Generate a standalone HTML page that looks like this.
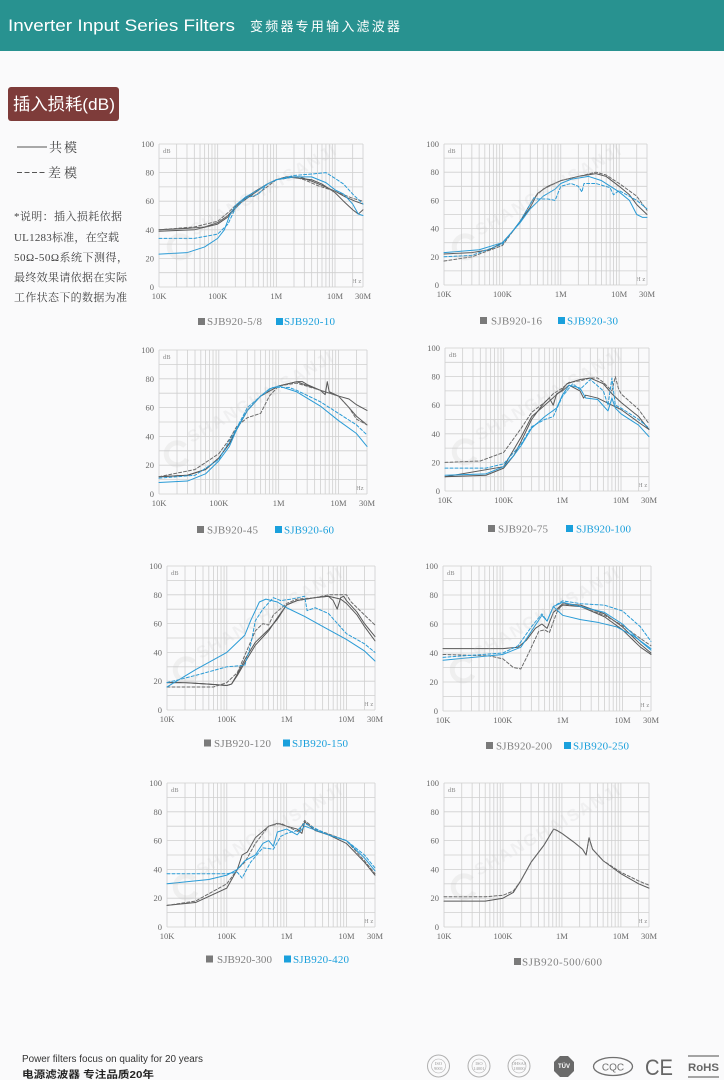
<!DOCTYPE html>
<html><head><meta charset="utf-8">
<style>
html,body{margin:0;padding:0;background:#fafafb;}
svg{display:block;}
.p{fill:none;vector-effect:non-scaling-stroke;stroke-width:1;stroke-linejoin:round;stroke-linecap:round}
.g{stroke:#585858}
.gd{stroke:#6a6a6a;stroke-dasharray:3 2}
.b{stroke:#2a9bd6}
.bd{stroke:#2a9bd6;stroke-dasharray:3 2}
.gr{fill:none;stroke:#cfcfcf;stroke-width:0.8;vector-effect:non-scaling-stroke}
.tk{font-family:"Liberation Serif","Noto Serif CJK SC",serif;font-size:8.5px;fill:#6a6a6a}
.sm{font-family:"Liberation Serif",serif;font-size:6.5px;fill:#888}
.lg{font-family:"Liberation Serif","Noto Serif CJK SC",serif;font-size:11px}
.wm{font-family:"Liberation Sans",sans-serif;font-size:17px;font-weight:bold;fill:#c4c4c4;opacity:.17}
.wc{fill:none;stroke:#c4c4c4;stroke-width:5;opacity:.2}
</style></head>
<body>
<svg width="724" height="1080" viewBox="0 0 724 1080" xmlns="http://www.w3.org/2000/svg">
<defs>
<path id="gridp" class="gr" d="M0 0V100M30.1 0V100M47.7 0V100M60.2 0V100M69.9 0V100M77.8 0V100M84.5 0V100M90.3 0V100M95.4 0V100M100 0V100M130.1 0V100M147.7 0V100M160.2 0V100M169.9 0V100M177.8 0V100M184.5 0V100M190.3 0V100M195.4 0V100M200 0V100M230.1 0V100M247.7 0V100M260.2 0V100M269.9 0V100M277.8 0V100M284.5 0V100M290.3 0V100M295.4 0V100M300 0V100M330.1 0V100M347.7 0V100M0 0H347.7M0 10H347.7M0 20H347.7M0 30H347.7M0 40H347.7M0 50H347.7M0 60H347.7M0 70H347.7M0 80H347.7M0 90H347.7M0 100H347.7"/>
</defs>
<rect x="0" y="0" width="724" height="1080" fill="#fafafb"/>
<!-- header -->
<rect x="0" y="0" width="724" height="51" fill="#289290"/>
<text x="8" y="31" font-family="Liberation Sans,sans-serif" font-size="17" fill="#ffffff" textLength="227" lengthAdjust="spacingAndGlyphs">Inverter Input Series Filters</text>
<text x="250" y="31" font-family="Liberation Sans,Noto Sans CJK SC,sans-serif" font-size="13" fill="#ffffff" textLength="150" lengthAdjust="spacing">变频器专用输入滤波器</text>
<!-- title box -->
<rect x="8" y="87" width="111" height="34" rx="3" fill="#7e3c3a"/>
<text x="13" y="110" font-family="Liberation Sans,Noto Sans CJK SC,sans-serif" font-size="17" fill="#ffffff" textLength="102" lengthAdjust="spacingAndGlyphs">插入损耗(dB)</text>
<!-- left legend -->
<line x1="17" y1="147" x2="47" y2="147" stroke="#555" stroke-width="1"/>
<text x="49" y="152" font-family="Liberation Serif,Noto Serif CJK SC,serif" font-size="13" fill="#444" textLength="28">共模</text>
<line x1="17" y1="172.5" x2="46" y2="172.5" stroke="#555" stroke-width="1" stroke-dasharray="5 2.5"/>
<text x="48" y="177.5" font-family="Liberation Serif,Noto Serif CJK SC,serif" font-size="13" fill="#444" textLength="29">差模</text>
<g font-family="Liberation Serif,Noto Serif CJK SC,serif" font-size="11" fill="#444">
<text x="14" y="220" textLength="108">*说明：插入损耗依据</text>
<text x="14" y="241" textLength="105">UL1283标准，在空载</text>
<text x="14" y="261" textLength="114">50Ω-50Ω系统下测得，</text>
<text x="14" y="281" textLength="113">最终效果请依据在实际</text>
<text x="14" y="301" textLength="113">工作状态下的数据为准</text>
</g>

<!-- ============ CHART 1 ============ -->
<g transform="translate(159,144)">
<text class="tk" x="-5" y="3" text-anchor="end">100</text>
<text class="tk" x="-5" y="31.6" text-anchor="end">80</text>
<text class="tk" x="-5" y="60.2" text-anchor="end">60</text>
<text class="tk" x="-5" y="88.8" text-anchor="end">40</text>
<text class="tk" x="-5" y="117.4" text-anchor="end">20</text>
<text class="tk" x="-5" y="146" text-anchor="end">0</text>
<text class="tk" x="0" y="155" text-anchor="middle">10K</text>
<text class="tk" x="58.7" y="155" text-anchor="middle">100K</text>
<text class="tk" x="117.3" y="155" text-anchor="middle">1M</text>
<text class="tk" x="176" y="155" text-anchor="middle">10M</text>
<text class="tk" x="204" y="155" text-anchor="middle">30M</text>
<text class="sm" x="4" y="9">dB</text>
<text class="sm" x="193" y="139">H z</text>
</g>
<svg x="159" y="144" width="204" height="143" viewBox="0 0 347.7 100" preserveAspectRatio="none" overflow="visible">
<use href="#gridp"/>
<polyline class="p g" points="0,60 47.7,59 77.8,58 100,55 117.6,50 130.1,44 139.8,40 160.2,34 184.5,28 200,25 217.6,23 239.8,23 260.2,26 277.8,29 300,33 317.6,37 334.2,40 347.7,42"/>
<polyline class="p g" points="0,61 60,60 100,56 117.6,51 130.1,45 139.8,41 160.2,35 184.5,28 200,25 217.6,23 239.8,24 260.2,25 277.8,28 300,34 314.6,40 330.1,46 339.8,49 347.7,46"/>
<polyline class="p gd" points="0,60 60.2,58 100,54 117.6,48 130.1,43 139.8,40 154.4,36 160.2,37 177.8,32 200,25 217.6,24 230,23 247.7,25 269.9,29 300,33 330.1,38 347.7,40"/>
<polyline class="p b" points="0,77 47.7,76 77.8,72 100,66 111.4,60 120.4,50 130.1,43 147.7,37 169.9,32 184.5,28 200,25 230.1,23 260.2,23 284.5,27 300,32 314.6,35 330.1,42 339.8,49 347.7,50"/>
<polyline class="p bd" points="0,66 60.2,66 100,63 117.6,56 130.1,45 147.7,38 169.9,35 184.5,28 200,25 230.1,22 260.2,21 284.5,20 300,24 314.6,28 330.1,35 347.7,42"/>
</svg>
<g transform="translate(180,247)"><path class="wc" d="M8 -8 A11 11 0 1 0 10 5"/><text class="wm" x="18" y="-2" transform="rotate(-30)" letter-spacing="2">SHANGHAISANJI</text></g>
<rect x="198" y="318" width="7" height="7" fill="#7a7a7a"/>
<text class="lg" x="207" y="325" fill="#808080" textLength="55">SJB920-5/8</text>
<rect x="276" y="318" width="7" height="7" fill="#1aa0dc"/>
<text class="lg" x="284" y="325" fill="#1a9fdb" textLength="51">SJB920-10</text>

<!-- ============ CHART 2 ============ -->
<g transform="translate(444,144)">
<text class="tk" x="-5" y="3" text-anchor="end">100</text>
<text class="tk" x="-5" y="31.2" text-anchor="end">80</text>
<text class="tk" x="-5" y="59.4" text-anchor="end">60</text>
<text class="tk" x="-5" y="87.6" text-anchor="end">40</text>
<text class="tk" x="-5" y="115.8" text-anchor="end">20</text>
<text class="tk" x="-5" y="144" text-anchor="end">0</text>
<text class="tk" x="0" y="153" text-anchor="middle">10K</text>
<text class="tk" x="58.4" y="153" text-anchor="middle">100K</text>
<text class="tk" x="116.8" y="153" text-anchor="middle">1M</text>
<text class="tk" x="175.2" y="153" text-anchor="middle">10M</text>
<text class="tk" x="203" y="153" text-anchor="middle">30M</text>
<text class="sm" x="4" y="9">dB</text>
<text class="sm" x="192" y="137">H z</text>
</g>
<svg x="444" y="144" width="203" height="141" viewBox="0 0 347.7 100" preserveAspectRatio="none" overflow="visible">
<use href="#gridp"/>
<polyline class="p g" points="0,78 47.7,77 77.8,75 100,70 117.6,62 130.1,55 147.7,45 160.2,35 177.8,30 200,26 230.1,23 260.2,21 277.8,23 300,30 317.6,36 330.1,43 347.7,50"/>
<polyline class="p gd" points="0,83 47.7,80 100,72 130.1,55 154.4,38 169.9,32 200,26 230.1,23 260.2,20 277.8,22 300,28 330.1,37 347.7,47"/>
<polyline class="p b" points="0,77 60.2,75 100,70 130.1,56 147.7,46 169.9,37 190.3,32 200,28 217.6,25 247.7,23 269.9,26 300,34 317.6,40 330.1,50 339.8,52 347.7,52"/>
<polyline class="p bd" points="0,80 47.7,79 100,71 130.1,55 154.4,38 160.2,39 177.8,39 190.3,40 200,30 217.6,28 230.1,30 236.2,34 239.8,28 260.2,28 284.5,31 290.3,36 300,33 330.1,40 347.7,46"/>
</svg>
<g transform="translate(465,247)"><path class="wc" d="M8 -8 A11 11 0 1 0 10 5"/><text class="wm" x="18" y="-2" transform="rotate(-30)" letter-spacing="2">SHANGHAISANJI</text></g>
<rect x="480" y="317" width="7" height="7" fill="#7a7a7a"/>
<text class="lg" x="491" y="324.5" fill="#808080" textLength="51">SJB920-16</text>
<rect x="558" y="317" width="7" height="7" fill="#1aa0dc"/>
<text class="lg" x="567" y="324.5" fill="#1a9fdb" textLength="51">SJB920-30</text>

<!-- ============ CHART 3 ============ -->
<g transform="translate(159,350)">
<text class="tk" x="-5" y="3" text-anchor="end">100</text>
<text class="tk" x="-5" y="31.8" text-anchor="end">80</text>
<text class="tk" x="-5" y="60.6" text-anchor="end">60</text>
<text class="tk" x="-5" y="89.4" text-anchor="end">40</text>
<text class="tk" x="-5" y="118.2" text-anchor="end">20</text>
<text class="tk" x="-5" y="147" text-anchor="end">0</text>
<text class="tk" x="0" y="156" text-anchor="middle">10K</text>
<text class="tk" x="59.8" y="156" text-anchor="middle">100K</text>
<text class="tk" x="119.6" y="156" text-anchor="middle">1M</text>
<text class="tk" x="179.5" y="156" text-anchor="middle">10M</text>
<text class="tk" x="208" y="156" text-anchor="middle">30M</text>
<text class="sm" x="4" y="9">dB</text>
<text class="sm" x="197" y="140">Hz</text>
</g>
<svg x="159" y="350" width="208" height="144" viewBox="0 0 347.7 100" preserveAspectRatio="none" overflow="visible">
<use href="#gridp"/>
<polyline class="p g" points="0,88 47.7,87 77.8,83 100,75 117.6,65 130.1,55 147.7,42 169.9,32 200,25 230.1,22 239.8,22 247.7,24 269.9,28 277.8,31 281.3,22 284.5,29 300,32 317.6,34 330.1,38 347.7,42"/>
<polyline class="p g" points="0,88 47.7,87 77.8,83 100,75 117.6,65 130.1,55 147.7,42 169.9,32 200,25 230.1,22 269.9,28 300,32 317.6,40 330.1,46 347.7,52"/>
<polyline class="p gd" points="0,88 60.2,83 100,72 117.6,62 130.1,53 147.7,47 169.9,44 184.5,32 200,25 230.1,23 269.9,28 300,32 317.6,40 330.1,48 347.7,52"/>
<polyline class="p b" points="0,92 47.7,91 77.8,86 100,77 117.6,67 130.1,55 147.7,42 169.9,32 184.5,27 200,25 230.1,29 269.9,39 300,49 330.1,58 347.7,67"/>
<polyline class="p bd" points="0,89 60.2,87 100,76 130.1,54 147.7,40 169.9,32 190.3,26 217.6,26 230.1,28 269.9,36 300,44 330.1,52 347.7,59"/>
</svg>
<g transform="translate(177,454)"><path class="wc" d="M8 -8 A11 11 0 1 0 10 5"/><text class="wm" x="18" y="-2" transform="rotate(-30)" letter-spacing="2">SHANGHAISANJI</text></g>
<rect x="197" y="526" width="7" height="7" fill="#7a7a7a"/>
<text class="lg" x="207" y="533.5" fill="#808080" textLength="51">SJB920-45</text>
<rect x="275" y="526" width="7" height="7" fill="#1aa0dc"/>
<text class="lg" x="284" y="533.5" fill="#1a9fdb" textLength="50">SJB920-60</text>

<!-- ============ CHART 4 ============ -->
<g transform="translate(445,348)">
<text class="tk" x="-5" y="3" text-anchor="end">100</text>
<text class="tk" x="-5" y="31.6" text-anchor="end">80</text>
<text class="tk" x="-5" y="60.2" text-anchor="end">60</text>
<text class="tk" x="-5" y="88.8" text-anchor="end">40</text>
<text class="tk" x="-5" y="117.4" text-anchor="end">20</text>
<text class="tk" x="-5" y="146" text-anchor="end">0</text>
<text class="tk" x="0" y="155" text-anchor="middle">10K</text>
<text class="tk" x="58.7" y="155" text-anchor="middle">100K</text>
<text class="tk" x="117.3" y="155" text-anchor="middle">1M</text>
<text class="tk" x="176" y="155" text-anchor="middle">10M</text>
<text class="tk" x="204" y="155" text-anchor="middle">30M</text>
<text class="sm" x="4" y="9">dB</text>
<text class="sm" x="193" y="139">H z</text>
</g>
<svg x="445" y="348" width="204" height="143" viewBox="0 0 347.7 100" preserveAspectRatio="none" overflow="visible">
<use href="#gridp"/>
<polyline class="p gd" points="0,80 60.2,79 100,73 130.1,56 147.7,45 169.9,38 184.5,32 200,28 211.4,24 230.1,23 247.7,21 260.2,21 269.9,24 284.5,30 290.3,20 295.4,28 300,32 330.1,43 347.7,53"/>
<polyline class="p g" points="0,90 69.9,89 100,84 117.6,75 130.1,65 147.7,50 160.2,43 169.9,38 177.8,35 184.5,40 190.3,32 200,30 211.4,26 230.1,30 236.2,35 239.8,33 260.2,35 284.5,40 300,43 330.1,52 347.7,57"/>
<polyline class="p g" points="0,90 100,83 130.1,62 147.7,48 169.9,40 200,29 207.9,25 230.1,22 247.7,21 269.9,25 284.5,32 300,38 330.1,48 347.7,57"/>
<polyline class="p b" points="0,89 69.9,88 100,83 117.6,75 130.1,68 147.7,56 169.9,48 190.3,42 200,33 211.4,26 230.1,28 239.8,35 260.2,36 277.8,44 284.5,35 290.3,42 300,46 330.1,54 347.7,62"/>
<polyline class="p bd" points="0,84 69.9,84 100,81 130.1,67 147.7,55 169.9,50 184.5,48 200,34 217.6,25 230.1,29 247.7,22 269.9,30 277.8,40 284.5,21 290.3,40 300,42 330.1,50 347.7,56"/>
</svg>
<g transform="translate(465,452)"><path class="wc" d="M8 -8 A11 11 0 1 0 10 5"/><text class="wm" x="18" y="-2" transform="rotate(-30)" letter-spacing="2">SHANGHAISANJI</text></g>
<rect x="488" y="525" width="7" height="7" fill="#7a7a7a"/>
<text class="lg" x="498" y="532.5" fill="#808080" textLength="50">SJB920-75</text>
<rect x="566" y="525" width="7" height="7" fill="#1aa0dc"/>
<text class="lg" x="576" y="532.5" fill="#1a9fdb" textLength="55">SJB920-100</text>

<!-- ============ CHART 5 ============ -->
<g transform="translate(167,566)">
<text class="tk" x="-5" y="3" text-anchor="end">100</text>
<text class="tk" x="-5" y="31.8" text-anchor="end">80</text>
<text class="tk" x="-5" y="60.6" text-anchor="end">60</text>
<text class="tk" x="-5" y="89.4" text-anchor="end">40</text>
<text class="tk" x="-5" y="118.2" text-anchor="end">20</text>
<text class="tk" x="-5" y="147" text-anchor="end">0</text>
<text class="tk" x="0" y="156" text-anchor="middle">10K</text>
<text class="tk" x="59.8" y="156" text-anchor="middle">100K</text>
<text class="tk" x="119.6" y="156" text-anchor="middle">1M</text>
<text class="tk" x="179.5" y="156" text-anchor="middle">10M</text>
<text class="tk" x="208" y="156" text-anchor="middle">30M</text>
<text class="sm" x="4" y="9">dB</text>
<text class="sm" x="197" y="140">H z</text>
</g>
<svg x="167" y="566" width="208" height="144" viewBox="0 0 347.7 100" preserveAspectRatio="none" overflow="visible">
<use href="#gridp"/>
<polyline class="p g" points="0,81 30.1,81 69.9,82 100,83 107.9,82 117.6,75 130.1,65 147.7,53 169.9,44 184.5,37 200,27 217.6,24 247.7,22 269.9,21 277.8,24 284.5,30 290.3,22 295.4,21 300,24 317.6,32 330.1,40 347.7,49"/>
<polyline class="p g" points="0,81 30.1,81 69.9,82 100,83 107.9,82 117.6,76 130.1,67 147.7,55 169.9,45 184.5,36 200,27 217.6,24 247.7,22 269.9,21 290.3,23 300,26 317.6,34 330.1,42 347.7,52"/>
<polyline class="p gd" points="0,84 47.7,84 77.8,84 100,81 117.6,74 130.1,62 147.7,45 160.2,40 169.9,41 177.8,34 200,26 217.6,23 247.7,22 269.9,20 300,20 307.9,25 330.1,34 347.7,41"/>
<polyline class="p b" points="0,84 47.7,72 100,60 130.1,48 139.8,38 154.4,25 165.3,23 184.5,25 200,29 230.1,35 260.2,42 300,51 330.1,59 347.7,66"/>
<polyline class="p bd" points="0,81 47.7,76 100,70 130.1,69 139.8,55 147.7,38 160.2,30 177.8,22 190.3,24 207.9,23 230.1,21 234.2,31 247.7,29 269.9,33 300,47 330.1,54 347.7,60"/>
</svg>
<g transform="translate(186,670)"><path class="wc" d="M8 -8 A11 11 0 1 0 10 5"/><text class="wm" x="18" y="-2" transform="rotate(-30)" letter-spacing="2">SHANGHAISANJI</text></g>
<rect x="204" y="739.5" width="7" height="7" fill="#7a7a7a"/>
<text class="lg" x="214" y="747" fill="#808080" textLength="57">SJB920-120</text>
<rect x="283" y="739.5" width="7" height="7" fill="#1aa0dc"/>
<text class="lg" x="292" y="747" fill="#1a9fdb" textLength="56">SJB920-150</text>

<!-- ============ CHART 6 ============ -->
<g transform="translate(443,566)">
<text class="tk" x="-5" y="3" text-anchor="end">100</text>
<text class="tk" x="-5" y="32" text-anchor="end">80</text>
<text class="tk" x="-5" y="61" text-anchor="end">60</text>
<text class="tk" x="-5" y="90" text-anchor="end">40</text>
<text class="tk" x="-5" y="119" text-anchor="end">20</text>
<text class="tk" x="-5" y="148" text-anchor="end">0</text>
<text class="tk" x="0" y="157" text-anchor="middle">10K</text>
<text class="tk" x="59.8" y="157" text-anchor="middle">100K</text>
<text class="tk" x="119.6" y="157" text-anchor="middle">1M</text>
<text class="tk" x="179.5" y="157" text-anchor="middle">10M</text>
<text class="tk" x="208" y="157" text-anchor="middle">30M</text>
<text class="sm" x="4" y="9">dB</text>
<text class="sm" x="197" y="141">H z</text>
</g>
<svg x="443" y="566" width="208" height="145" viewBox="0 0 347.7 100" preserveAspectRatio="none" overflow="visible">
<use href="#gridp"/>
<polyline class="p g" points="0,57 100,57 125.5,56 139.8,51 154.4,43 165.3,40 174,43 184.5,32 200,26 230.1,27 269.9,33 300,42 330.1,54 347.7,60"/>
<polyline class="p g" points="184.5,32 200,27 230.1,28 269.9,35 300,44 330.1,56 347.7,61"/>
<polyline class="p gd" points="0,61 77.8,62 100,64 117.6,70 130.1,71 139.8,63 160.2,45 169.9,44 177.8,46 190.3,32 200,26 230.1,28 269.9,34 300,41 330.1,50 347.7,55"/>
<polyline class="p b" points="0,65 100,61 130.1,56 147.7,45 165.3,34 174,38 184.5,28 200,34 230.1,37 260.2,39 290.3,42 317.6,48 347.7,57"/>
<polyline class="p b" points="184.5,28 200,25 269.9,32 300,40 330.1,52 347.7,58"/>
<polyline class="p bd" points="0,63 100,60 125.5,55 147.7,42 165.3,33 174,38 184.5,28 200,24 230.1,26 269.9,27 300,31 330.1,42 347.7,52"/>
</svg>
<g transform="translate(463,670)"><path class="wc" d="M8 -8 A11 11 0 1 0 10 5"/><text class="wm" x="18" y="-2" transform="rotate(-30)" letter-spacing="2">SHANGHAISANJI</text></g>
<rect x="486" y="742" width="7" height="7" fill="#7a7a7a"/>
<text class="lg" x="496" y="749.5" fill="#808080" textLength="56">SJB920-200</text>
<rect x="564" y="742" width="7" height="7" fill="#1aa0dc"/>
<text class="lg" x="573" y="749.5" fill="#1a9fdb" textLength="56">SJB920-250</text>

<!-- ============ CHART 7 ============ -->
<g transform="translate(167,783)">
<text class="tk" x="-5" y="3" text-anchor="end">100</text>
<text class="tk" x="-5" y="31.8" text-anchor="end">80</text>
<text class="tk" x="-5" y="60.6" text-anchor="end">60</text>
<text class="tk" x="-5" y="89.4" text-anchor="end">40</text>
<text class="tk" x="-5" y="118.2" text-anchor="end">20</text>
<text class="tk" x="-5" y="147" text-anchor="end">0</text>
<text class="tk" x="0" y="156" text-anchor="middle">10K</text>
<text class="tk" x="59.8" y="156" text-anchor="middle">100K</text>
<text class="tk" x="119.6" y="156" text-anchor="middle">1M</text>
<text class="tk" x="179.5" y="156" text-anchor="middle">10M</text>
<text class="tk" x="208" y="156" text-anchor="middle">30M</text>
<text class="sm" x="4" y="9">dB</text>
<text class="sm" x="197" y="140">H z</text>
</g>
<svg x="167" y="783" width="208" height="144" viewBox="0 0 347.7 100" preserveAspectRatio="none" overflow="visible">
<use href="#gridp"/>
<polyline class="p g" points="0,85 47.7,83 100,73 117.6,60 125.5,50 134.2,48 147.7,38 169.9,30 184.5,28 200,30 217.6,32 225.5,35 230.1,27 247.7,33 269.9,36 300,42 330.1,55 347.7,64"/>
<polyline class="p gd" points="0,85 47.7,82 100,70 117.6,60 130.1,55 147.7,42 169.9,30 190.3,28 200,30 220.4,34 230.1,26 247.7,32 300,40 330.1,54 347.7,63"/>
<polyline class="p b" points="0,70 69.9,67 100,64 117.6,60 130.1,54 147.7,50 160.2,42 169.9,40 177.8,44 184.5,34 200,32 217.6,36 230.1,30 269.9,36 300,40 330.1,52 347.7,61"/>
<polyline class="p bd" points="0,63 100,63 117.6,62 125.5,66 139.8,55 160.2,45 177.8,46 190.3,37 200,35 217.6,33 230.1,28 269.9,36 300,40 330.1,50 347.7,59"/>
</svg>
<g transform="translate(186,887)"><path class="wc" d="M8 -8 A11 11 0 1 0 10 5"/><text class="wm" x="18" y="-2" transform="rotate(-30)" letter-spacing="2">SHANGHAISANJI</text></g>
<rect x="206" y="955.5" width="7" height="7" fill="#7a7a7a"/>
<text class="lg" x="217" y="963" fill="#808080" textLength="55">SJB920-300</text>
<rect x="284" y="955.5" width="7" height="7" fill="#1aa0dc"/>
<text class="lg" x="293" y="963" fill="#1a9fdb" textLength="56">SJB920-420</text>

<!-- ============ CHART 8 ============ -->
<g transform="translate(444,783)">
<text class="tk" x="-5" y="3" text-anchor="end">100</text>
<text class="tk" x="-5" y="31.8" text-anchor="end">80</text>
<text class="tk" x="-5" y="60.6" text-anchor="end">60</text>
<text class="tk" x="-5" y="89.4" text-anchor="end">40</text>
<text class="tk" x="-5" y="118.2" text-anchor="end">20</text>
<text class="tk" x="-5" y="147" text-anchor="end">0</text>
<text class="tk" x="0" y="156" text-anchor="middle">10K</text>
<text class="tk" x="59" y="156" text-anchor="middle">100K</text>
<text class="tk" x="117.9" y="156" text-anchor="middle">1M</text>
<text class="tk" x="176.9" y="156" text-anchor="middle">10M</text>
<text class="tk" x="205" y="156" text-anchor="middle">30M</text>
<text class="sm" x="4" y="9">dB</text>
<text class="sm" x="194" y="140">H z</text>
</g>
<svg x="444" y="783" width="205" height="144" viewBox="0 0 347.7 100" preserveAspectRatio="none" overflow="visible">
<use href="#gridp"/>
<polyline class="p g" points="0,82 69.9,82 100,80 117.6,76 130.1,68 147.7,55 169.9,43 180,36 186,32 192,33 200,35 220,41 235,46 241,50 246,38 252,46 270,54 300,63 330.1,70 347.7,73"/>
<polyline class="p gd" points="0,79 69.9,79 100,78 117.6,75 130.1,68 147.7,55 169.9,43 180,36 186,32 192,33 200,35 220,41 235,46 241,50 246,38 252,46 270,54 300,62 330.1,68 347.7,71"/>
</svg>
<g transform="translate(464,887)"><path class="wc" d="M8 -8 A11 11 0 1 0 10 5"/><text class="wm" x="18" y="-2" transform="rotate(-30)" letter-spacing="2">SHANGHAISANJI</text></g>
<rect x="514" y="958" width="7" height="7" fill="#7a7a7a"/>
<text class="lg" x="522" y="965.5" fill="#808080" textLength="80">SJB920-500/600</text>

<!-- footer -->
<text x="22" y="1062" font-family="Liberation Sans,sans-serif" font-size="10" fill="#333" textLength="181" lengthAdjust="spacingAndGlyphs">Power filters focus on quality for 20 years</text>
<text x="22" y="1078" font-family="Liberation Sans,Noto Sans CJK SC,sans-serif" font-size="10" font-weight="bold" fill="#222" textLength="132" lengthAdjust="spacingAndGlyphs">电源滤波器 专注品质20年</text>
<g fill="none" stroke="#b0b0b0">
<circle cx="438.5" cy="1066" r="11" stroke-width="1"/><circle cx="438.5" cy="1066" r="7" stroke-width="0.6"/>
<circle cx="479" cy="1066" r="11" stroke-width="1"/><circle cx="479" cy="1066" r="7" stroke-width="0.6"/>
<circle cx="519" cy="1066" r="11" stroke-width="1"/><circle cx="519" cy="1066" r="7" stroke-width="0.6"/>
</g>
<g font-family="Liberation Serif,serif" font-size="4.5" fill="#999" text-anchor="middle">
<text x="438.5" y="1065">ISO</text><text x="438.5" y="1070">9001</text>
<text x="479" y="1065">ISO</text><text x="479" y="1070">14001</text>
<text x="519" y="1065">OHSAS</text><text x="519" y="1070">18000</text>
</g>
<polygon points="560,1056 568,1056 574,1062 574,1071 568,1077 560,1077 554,1071 554,1062" fill="#6a6a6a"/>
<text x="564" y="1068" font-family="Liberation Sans,sans-serif" font-size="6" font-weight="bold" fill="#fff" text-anchor="middle">TÜV</text>
<ellipse cx="613" cy="1066.5" rx="19.5" ry="9" fill="none" stroke="#707070" stroke-width="1.3"/>
<text x="613" y="1070.5" font-family="Liberation Sans,sans-serif" font-size="10" fill="#707070" text-anchor="middle">CQC</text>
<text x="645" y="1075" font-family="Liberation Sans,sans-serif" font-size="22" fill="#666" textLength="28" lengthAdjust="spacingAndGlyphs">CE</text>
<line x1="688" y1="1056" x2="719" y2="1056" stroke="#888" stroke-width="1.5"/>
<line x1="688" y1="1077" x2="719" y2="1077" stroke="#888" stroke-width="1.5"/>
<text x="688" y="1071" font-family="Liberation Sans,sans-serif" font-size="11" font-weight="bold" fill="#666" textLength="31" lengthAdjust="spacingAndGlyphs">RoHS</text>
</svg>
</body></html>
